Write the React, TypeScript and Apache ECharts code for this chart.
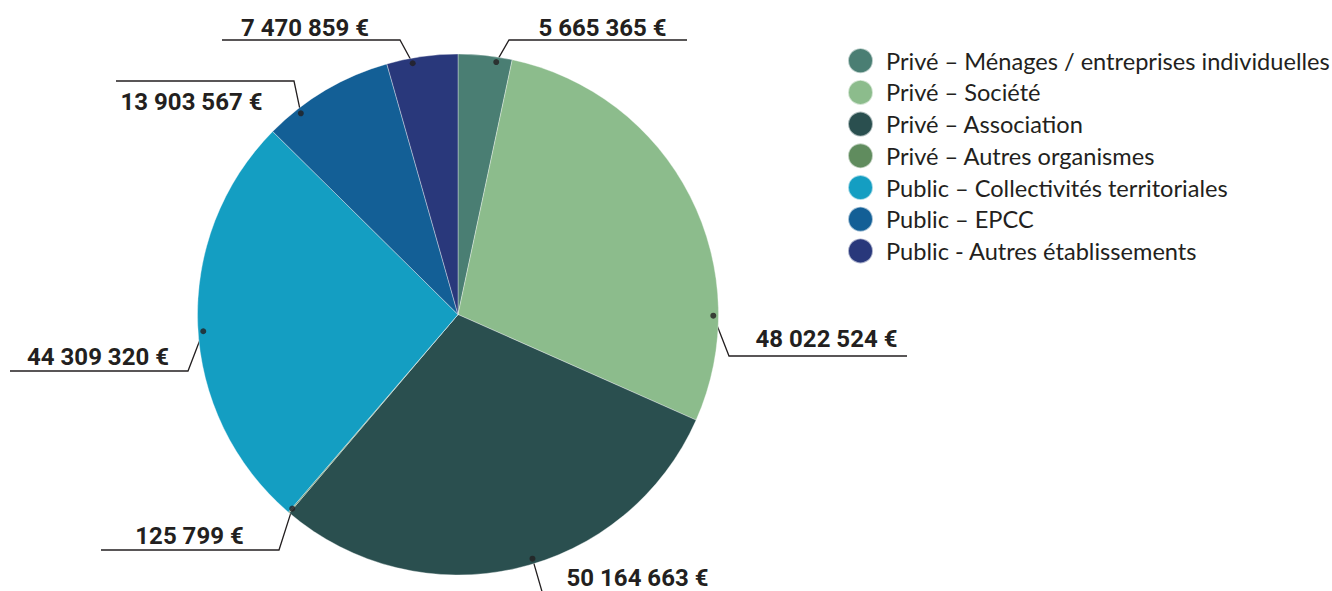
import React, { useEffect, useRef } from 'react';
import * as echarts from 'echarts';

// ---- data ----
const categories = [
  'Privé – Ménages / entreprises individuelles',
  'Privé – Société',
  'Privé – Association',
  'Privé – Autres organismes',
  'Public – Collectivités territoriales',
  'Public – EPCC',
  'Public - Autres établissements',
];
const values = [5665365, 48022524, 50164663, 125799, 44309320, 13903567, 7470859];
const colors = ['#4a7e73', '#8cbc8c', '#2a4f4f', '#608c5e', '#149ec2', '#135f96', '#29387b'];

// ---- layout / style of the leader lines ----
const CX = 458;
const CY = 314.5;
const R = 260.5;
const dotRadiusRatio = 0.98;
const anchorShiftDeg = [2.6, 27.3, -4.1, 0, -1.4, -7.4, -2.3];
const elbows = [[509, 40], [729, 356], [543, 595], [279, 550], [188, 371], [294, 81], [400, 40]];
const lineDir = [1, 1, 1, -1, -1, -1, -1];
const textOffsets = [[4.5, -12], [8.5, -17], [5.5, -17.5], [-0.5, -14], [-1, -14], [-13.5, 20.5], [-6, -12]];
const LINE_LEN = 178;
const INK = '#231f20';

function fmt(v: number): string {
  return String(v).replace(/\B(?=(\d{3})+(?!\d))/g, ' ') + ' €';
}

export default function App() {
  const ref = useRef<HTMLDivElement>(null);
  useEffect(() => {
    document.body.style.margin = '0';
    if (!ref.current) return;
    const chart = echarts.init(ref.current, null, { renderer: 'svg' });
    const total = values.reduce((a, b) => a + b, 0);
    let cum = 0;
    const anchors = values.map((v, i) => {
      const a = cum + v / 2 + (anchorShiftDeg[i] / 360) * total;
      cum += v;
      return a;
    });
    const anchorPoint = (i: number) => {
      const phi = (anchors[i] / total) * Math.PI * 2;
      const r = R * dotRadiusRatio;
      return [CX + r * Math.sin(phi), CY - r * Math.cos(phi)];
    };
    chart.setOption({
      animation: false,
      legend: {
        orient: 'vertical',
        left: 847,
        top: 47.2,
        padding: 0,
        itemWidth: 25,
        itemHeight: 25,
        itemGap: 4.7,
        icon: 'circle',
        data: categories,
        textStyle: { fontFamily: 'Lato', fontSize: 23.6, lineHeight: 25, color: INK, padding: [0, 0, 0, 8] },
      },
      polar: { center: [CX, CY], radius: R },
      angleAxis: { type: 'value', min: 0, max: total, startAngle: 90, clockwise: true, show: false },
      radiusAxis: { type: 'value', min: 0, max: 1, show: false },
      series: [
        {
          type: 'pie',
          center: [CX, CY],
          radius: R,
          startAngle: 90,
          clockwise: true,
          avoidLabelOverlap: false,
          data: categories.map((name, i) => ({ name, value: values[i], itemStyle: { color: colors[i] } })),
          itemStyle: { borderColor: 'rgba(255,255,255,0.6)', borderWidth: 0.6 },
          label: {
            show: true,
            position: 'outside',
            formatter: (p: any) => fmt(p.value),
            fontFamily: 'Roboto',
            fontWeight: 'bold',
            fontSize: 24,
            lineHeight: 20,
            color: INK,
          },
          labelLine: { show: true, length: 20, length2: 20, lineStyle: { color: INK, width: 1.3 } },
          labelLayout: (params: any) => {
            const i = params.dataIndex;
            const e = elbows[i];
            const end = [e[0] + lineDir[i] * LINE_LEN, e[1]];
            return {
              x: e[0] + (lineDir[i] * LINE_LEN) / 2 + textOffsets[i][0],
              y: e[1] + textOffsets[i][1],
              align: 'center',
              verticalAlign: 'middle',
              labelLinePoints: [anchorPoint(i), e, end],
            };
          },
          emphasis: { disabled: true },
        },
        {
          type: 'scatter',
          coordinateSystem: 'polar',
          symbolSize: 6,
          z: 5,
          itemStyle: { color: INK },
          data: anchors.map((a) => [dotRadiusRatio, a]),
          silent: true,
        },
      ],
    });
    return () => chart.dispose();
  }, []);
  return <div ref={ref} style={{ width: 1332, height: 591 }} />;
}
